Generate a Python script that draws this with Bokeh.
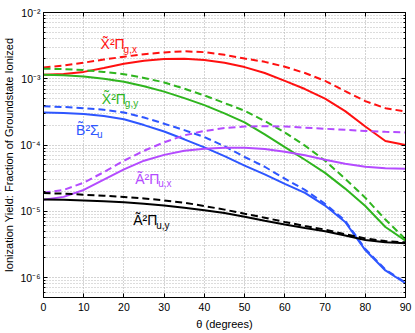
import numpy as np
from bokeh.plotting import figure
from bokeh.models import (ColumnDataSource, FixedTicker, CustomJSTickFormatter,
                          LinearAxis, LogAxis, Range1d)
from bokeh.core.properties import value
from bokeh.embed import file_html
from bokeh.resources import INLINE

# ---------------- data ----------------
theta = [0, 5, 10, 15, 20, 25, 30, 35, 40, 45, 50, 55, 60, 65, 70, 75, 80, 85, 90]

xgx_solid = [1.15e-3, 1.18e-3, 1.27e-3, 1.45e-3, 1.68e-3, 1.87e-3, 1.98e-3, 2.0e-3, 1.92e-3,
             1.75e-3, 1.5e-3, 1.22e-3, 9.3e-4, 7.0e-4, 5.0e-4, 3.25e-4, 1.9e-4, 1.15e-4, 1.0e-4]
xgx_dashed = [1.48e-3, 1.58e-3, 1.75e-3, 1.95e-3, 2.15e-3, 2.35e-3, 2.5e-3, 2.6e-3, 2.52e-3,
              2.3e-3, 2.02e-3, 1.8e-3, 1.52e-3, 1.22e-3, 9.3e-4, 6.5e-4, 4.6e-4, 3.6e-4, 3.2e-4]
xgy_solid = [1.15e-3, 1.13e-3, 1.08e-3, 1.0e-3, 9.0e-4, 7.7e-4, 6.4e-4, 5.1e-4, 4.0e-4,
             3.0e-4, 2.2e-4, 1.45e-4, 9.3e-5, 6.0e-5, 3.8e-5, 2.2e-5, 1.2e-5, 5.8e-6, 3.6e-6]
xgy_dashed = [1.42e-3, 1.4e-3, 1.35e-3, 1.27e-3, 1.17e-3, 1.03e-3, 8.8e-4, 7.1e-4, 5.6e-4,
              4.3e-4, 3.3e-4, 2.3e-4, 1.55e-4, 9.8e-5, 5.8e-5, 3.1e-5, 1.6e-5, 7.5e-6, 3.8e-6]
bsu_solid = [3.1e-4, 3.05e-4, 2.95e-4, 2.75e-4, 2.45e-4, 2.0e-4, 1.6e-4, 1.22e-4, 9.2e-5,
             6.8e-5, 4.9e-5, 3.6e-5, 2.6e-5, 1.9e-5, 1.22e-5, 6.9e-6, 2.6e-6, 1.28e-6, 8.2e-7]
bsu_dashed = [3.84e-4, 3.75e-4, 3.6e-4, 3.4e-4, 3.1e-4, 2.6e-4, 2.1e-4, 1.68e-4, 1.32e-4,
              9.6e-5, 6.6e-5, 4.7e-5, 3.1e-5, 2.1e-5, 1.3e-5, 7.2e-6, 2.7e-6, 1.32e-6, 8.4e-7]
aux_solid = [1.5e-5, 1.65e-5, 2.1e-5, 3.0e-5, 4.3e-5, 5.8e-5, 7.1e-5, 8.2e-5, 8.8e-5,
             9.1e-5, 9.1e-5, 8.7e-5, 7.9e-5, 7.0e-5, 6.0e-5, 5.2e-5, 4.7e-5, 4.45e-5, 4.4e-5]
aux_dashed = [1.9e-5, 2.1e-5, 2.7e-5, 3.9e-5, 5.8e-5, 8.2e-5, 1.1e-4, 1.4e-4, 1.63e-4,
              1.8e-4, 1.9e-4, 1.92e-4, 1.9e-4, 1.83e-4, 1.76e-4, 1.7e-4, 1.63e-4, 1.58e-4, 1.55e-4]
auy_solid = [1.5e-5, 1.49e-5, 1.46e-5, 1.42e-5, 1.37e-5, 1.3e-5, 1.22e-5, 1.13e-5, 1.04e-5,
             9.4e-6, 8.3e-6, 7.2e-6, 6.3e-6, 5.6e-6, 5.0e-6, 4.3e-6, 3.7e-6, 3.4e-6, 3.3e-6]
auy_dashed = [1.88e-5, 1.85e-5, 1.78e-5, 1.72e-5, 1.65e-5, 1.56e-5, 1.46e-5, 1.35e-5, 1.2e-5,
              1.06e-5, 9.2e-6, 8.0e-6, 6.9e-6, 6.0e-6, 5.3e-6, 4.5e-6, 3.9e-6, 3.55e-6, 3.4e-6]

state_main = ["X\u0303\u00b2\u03a0", "X\u0303\u00b2\u03a0", "B\u0303\u00b2\u03a3", "\u00c3\u00b2\u03a0", "\u00c3\u00b2\u03a0"]
state_sub = ["g,x", "g,y", "u", "u,x", "u,y"]
state_colors = ["#ff1010", "#2fb51e", "#2e56ff", "#b44bff", "#000000"]

x_tick_values = [0, 10, 20, 30, 40, 50, 60, 70, 80, 90]
x_tick_labels = ["0", "10", "20", "30", "40", "50", "60", "70", "80", "90"]
y_tick_values = [1e-6, 1e-5, 1e-4, 1e-3, 1e-2]
y_tick_labels = ["10\u207b\u2076", "10\u207b\u2075", "10\u207b\u2074", "10\u207b\u00b3", "10\u207b\u00b2"]

x_label = "\u03b8 (degrees)"
y_label = "Ionization Yield: Fraction of Groundstate Ionized"

# label placement (annotation anchors in data coordinates)
label_theta = [14.2, 14.5, 8.1, 22.8, 22.3]
label_y = [3.3e-3, 5.0e-4, 1.7e-4, 3.1e-5, 7.3e-6]
label_sub_dx = [23, 23, 21, 23, 23]

FONT = "Liberation Sans"

# ---------------- figure ----------------
p = figure(width=415, height=333, y_axis_type="log",
           x_range=Range1d(0, 90), y_range=Range1d(5e-7, 1e-2),
           output_backend="svg", toolbar_location=None,
           min_border_left=43, min_border_right=10, min_border_top=12, min_border_bottom=36)
p.background_fill_color = "white"
p.border_fill_color = "white"
p.outline_line_color = "black"
p.outline_line_width = 1

minor_y = [k * 10.0 ** e for e in range(-7, -2) for k in range(2, 10)]
xt = FixedTicker(ticks=x_tick_values)
yt = FixedTicker(ticks=y_tick_values, minor_ticks=minor_y)

x_fmt = CustomJSTickFormatter(args=dict(vals=x_tick_values, labs=x_tick_labels), code="""
for (let i = 0; i < vals.length; i++) { if (Math.abs(vals[i] - tick) < 1e-9) return labs[i]; }
return "";
""")
y_fmt = CustomJSTickFormatter(args=dict(vals=y_tick_values, labs=y_tick_labels), code="""
for (let i = 0; i < vals.length; i++) { if (Math.abs(Math.log10(vals[i]) - Math.log10(tick)) < 1e-6) return labs[i]; }
return "";
""")
blank = CustomJSTickFormatter(code="return '';")


def style_axis(ax):
    ax.major_tick_in = 4
    ax.major_tick_out = 0
    ax.minor_tick_in = 2
    ax.minor_tick_out = 0
    ax.axis_line_color = "black"
    ax.major_tick_line_color = "black"
    ax.minor_tick_line_color = "black"
    ax.major_label_text_font = FONT
    ax.major_label_text_font_size = "10.5px"
    ax.major_label_text_color = "black"
    ax.axis_label_text_font = FONT
    ax.axis_label_text_font_size = "11px"
    ax.axis_label_text_font_style = "normal"
    ax.axis_label_text_color = "black"


xa = p.xaxis[0]
xa.ticker = xt
xa.formatter = x_fmt
xa.axis_label = x_label
style_axis(xa)
xa.major_label_standoff = 5
xa.axis_label_standoff = 4

ya = p.yaxis[0]
ya.ticker = yt
ya.formatter = y_fmt
ya.axis_label = y_label
style_axis(ya)
ya.major_label_standoff = 3
ya.axis_label_standoff = 2

top = LinearAxis(ticker=FixedTicker(ticks=x_tick_values), formatter=blank)
style_axis(top)
top.major_label_standoff = 0
top.major_label_text_font_size = "0px"
p.add_layout(top, "above")

right = LogAxis(ticker=FixedTicker(ticks=y_tick_values, minor_ticks=minor_y), formatter=blank)
style_axis(right)
right.major_label_standoff = 0
right.major_label_text_font_size = "0px"
p.add_layout(right, "right")

p.xgrid.ticker = xt
p.ygrid.ticker = yt
for g in (p.xgrid[0], p.ygrid[0]):
    g.grid_line_color = "#a8a8a8"
    g.grid_line_dash = "1 2"
    g.grid_line_width = 1
p.ygrid[0].minor_grid_line_color = "#b8b8b8"
p.ygrid[0].minor_grid_line_dash = "1 2"
p.ygrid[0].minor_grid_line_width = 1

# ---------------- curves ----------------
series = [
    (xgx_solid, xgx_dashed, state_colors[0]),
    (xgy_solid, xgy_dashed, state_colors[1]),
    (bsu_solid, bsu_dashed, state_colors[2]),
    (aux_solid, aux_dashed, state_colors[3]),
    (auy_solid, auy_dashed, state_colors[4]),
]
for solid, dashed, col in series:
    p.line(theta, dashed, line_color=col, line_width=2, line_dash="7 4")
    p.line(theta, solid, line_color=col, line_width=2)

# ---------------- state labels ----------------
lab_src = ColumnDataSource(dict(x=label_theta, y=label_y, main=state_main, sub=state_sub,
                                color=state_colors, dx=label_sub_dx))
p.text(x="x", y="y", text="main", source=lab_src, text_color="color",
       text_font=value(FONT), text_font_size="14px", text_baseline="alphabetic",
       text_align="left")
p.text(x="x", y="y", text="sub", source=lab_src, text_color="color",
       text_font=value(FONT), text_font_size="10px", text_baseline="alphabetic",
       text_align="left", x_offset="dx", y_offset=5)

open("out.html", "w").write(file_html(p, INLINE))
